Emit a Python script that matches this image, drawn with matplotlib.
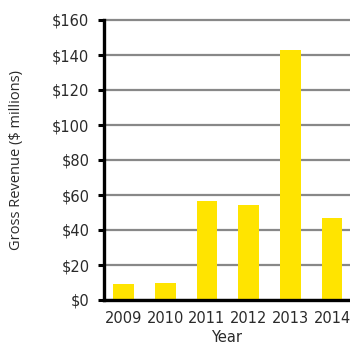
import matplotlib.pyplot as plt
import numpy as np

# Gross revenue by year, in millions of dollars
years = ['2009', '2010', '2011', '2012', '2013', '2014']
revenue = [9, 10, 56.5, 54.5, 143, 46.7]
y_ticks = [0, 20, 40, 60, 80, 100, 120, 140, 160]

plt.rcParams['font.family'] = ['DejaVu Sans']

fig = plt.figure(figsize=(3.5, 3.45), dpi=100)
ax = fig.add_axes([104 / 350, 1 - 300 / 345, 1 - 104 / 350, 280 / 345])

x = np.arange(len(years))
ax.bar(x, revenue, width=0.5, color='#FFE400', zorder=3)

ax.set_ylim(0, 160)
ax.set_xlim(-0.47, 5.43)
ax.set_yticks(y_ticks)
ax.set_yticklabels(['${}'.format(v) for v in y_ticks])
ax.set_xticks(x)
ax.set_xticklabels(years)

# thick gray horizontal grid behind the bars
ax.yaxis.grid(True, color='#888888', linewidth=1.6, zorder=0)
ax.set_axisbelow(True)
for gl in ax.get_ygridlines():
    gl.set_clip_on(False)

for side in ['top', 'right']:
    ax.spines[side].set_visible(False)
ax.spines['left'].set_linewidth(2.4)
ax.spines['bottom'].set_linewidth(2.4)
ax.spines['left'].set_zorder(4)
ax.spines['bottom'].set_zorder(4)

ax.tick_params(axis='y', length=4, width=2.2, pad=6.5, labelsize=10.5, colors='black')
ax.tick_params(axis='x', length=0, pad=8, labelsize=10.5)
for lbl in ax.get_yticklabels() + ax.get_xticklabels():
    lbl.set_color('#2a2a2a')

ax.set_xlabel('Year', fontsize=10.5, color='#2a2a2a', labelpad=3)
ax.set_ylabel('Gross Revenue ($ millions)', fontsize=10.5, color='#2a2a2a',
              labelpad=20, family=['Open Sans', 'DejaVu Sans'])

fig.savefig('out.png', dpi=100)
